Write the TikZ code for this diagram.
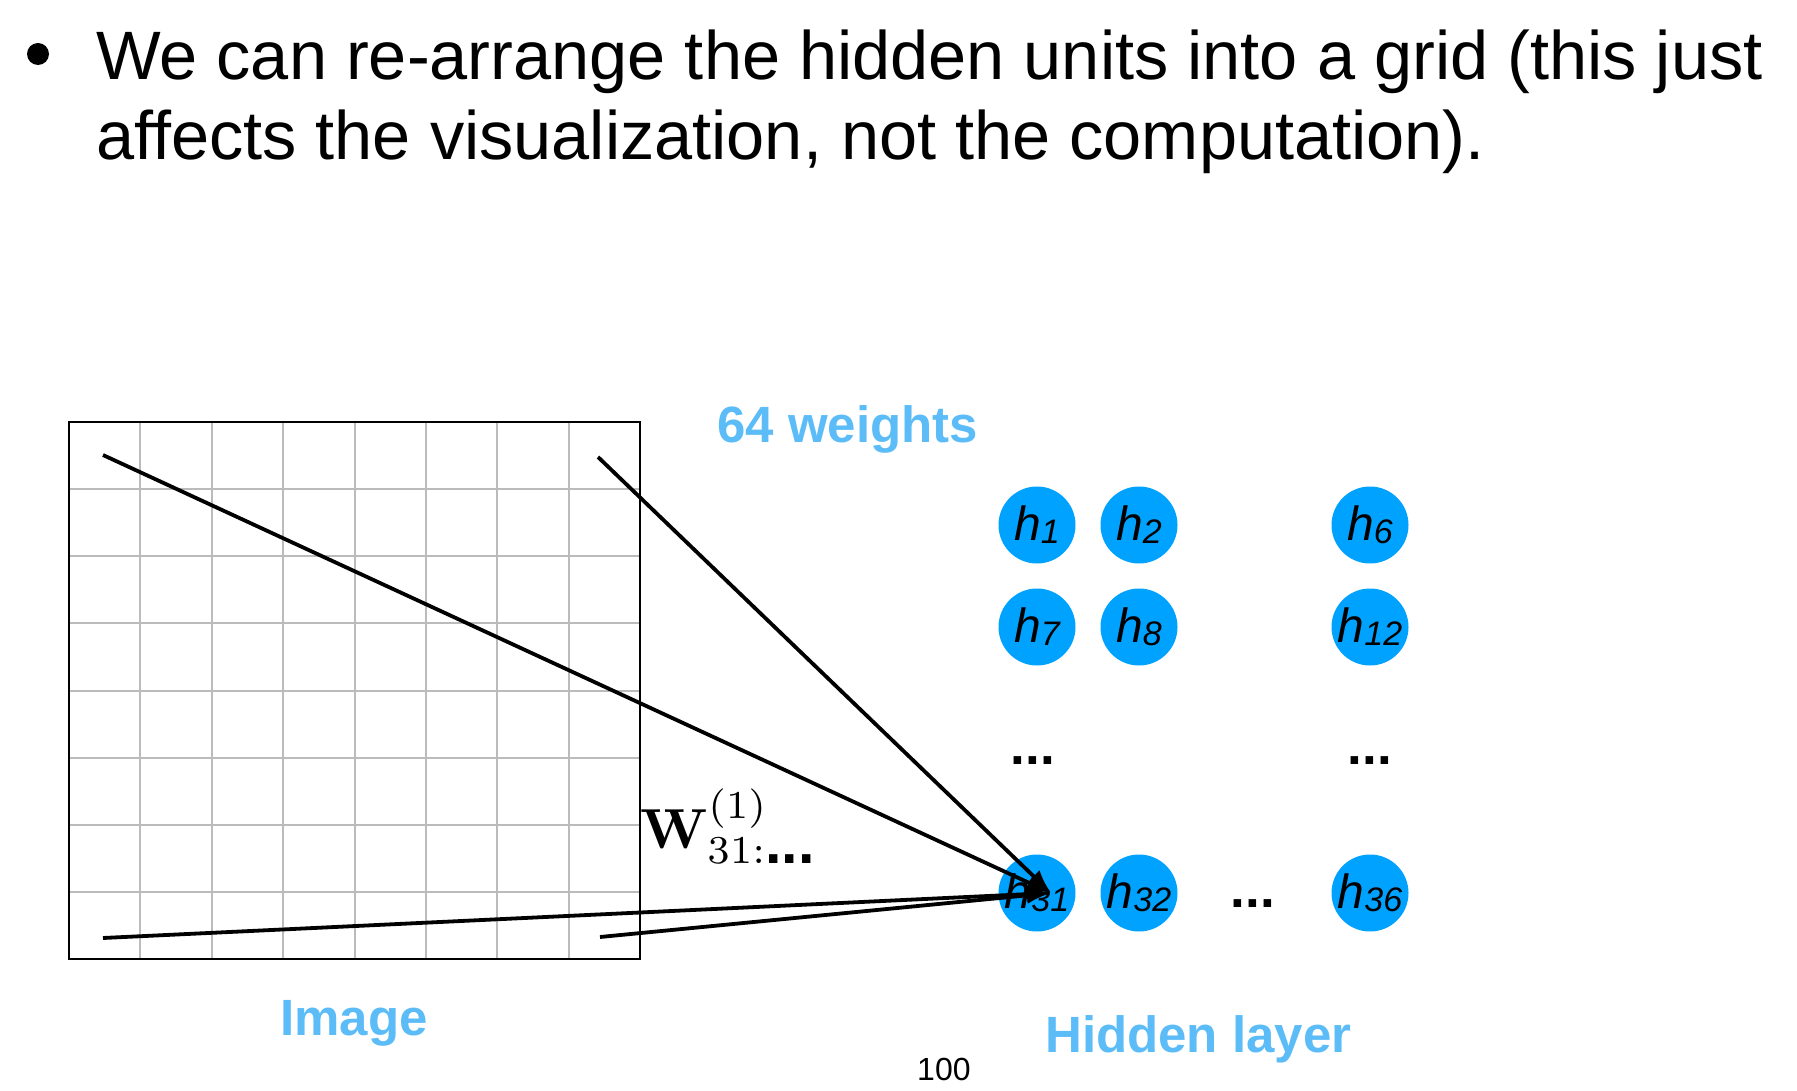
\documentclass[tikz,border=0pt]{standalone}
\usepackage{amsmath}
\usepackage[no-math]{fontspec}
\usepackage{graphicx}
\setmainfont{Liberation Sans}
\usetikzlibrary{arrows.meta}
\definecolor{lblue}{HTML}{5CBCF7}
\definecolor{hblue}{HTML}{00A2FF}
\definecolor{gridgray}{HTML}{BBBBBB}
\newcommand{\hunit}[1]{\fontsize{48}{48}\selectfont\itshape h\raisebox{-3pt}{\fontsize{34}{34}\selectfont #1}}
\tikzset{
  unit/.style={circle,fill=hblue,minimum size=77pt,inner sep=0pt,text=black},
  lbl/.style={text=lblue,font=\fontsize{51}{51}\selectfont\bfseries,anchor=base west,inner sep=0pt},
  hdots/.style={font=\fontsize{53}{53}\selectfont\bfseries,anchor=base,inner sep=0pt},
  conn/.style={line width=3.8pt,-{Latex[length=24pt,width=17pt]}},
  title/.style={font=\fontsize{68.5}{80}\selectfont,anchor=base west,inner sep=0pt}
}
\begin{document}
\begin{tikzpicture}[x=1pt,y=-1pt]
\useasboundingbox (0,0) rectangle (1797,1091);
% title
\fill (38,54) circle (11);
\node[title] (t1) at (96,80) {We can re-arrange the hidden units into a grid (this just};
\node[title] (t2) at (96,160) {affects the visualization, not the computation).};
% image grid
\foreach \i in {1,...,7} {
  \draw[gridgray,line width=2pt] ({69+\i*571/8},422) -- ({69+\i*571/8},959);
  \draw[gridgray,line width=2pt] (69,{422+\i*537/8}) -- (640,{422+\i*537/8});
}
\draw[line width=2.5pt] (69,422) rectangle (640,959);
% labels
\node[lbl] (w64) at (717,442) {64 weights};
\node[lbl] (img) at (280,1035) {Image};
\node[lbl] (hid) at (1045,1052) {Hidden layer};
\node[anchor=base west,inner sep=0pt,font=\fontsize{32}{32}\selectfont] (pg) at (917,1080) {100};
% hidden units
\node[unit] (h1) at (1037,525) {\hunit{1}};
\node[unit] (h2) at (1139,525) {\hunit{2}};
\node[unit] (h6) at (1370,525) {\hunit{6}};
\node[unit] (h7) at (1037,627) {\hunit{7}};
\node[unit] (h8) at (1139,627) {\hunit{8}};
\node[unit] (h12) at (1370,627) {\hunit{12}};
\node[unit] (h31) at (1037,893) {\hunit{31}};
\node[unit] (h32) at (1139,893) {\hunit{32}};
\node[unit] (h36) at (1370,893) {\hunit{36}};
\node[hdots] (d1) at (1033,764) {...};
\node[hdots] (d2) at (1370,764) {...};
\node[hdots] (d3) at (1253,907) {...};
% weight label
\node[anchor=base west,inner sep=0pt] (wl) at (640,848) {\scalebox{5.65}{$\mathbf{W}^{(1)}_{31:\mbox{\fontsize{10.5}{10.5}\selectfont\bfseries...}}$}};
% arrows
\coordinate (s1) at (103,455);
\coordinate (s2) at (598,457);
\coordinate (s3) at (103,938);
\coordinate (s4) at (600,937);
\coordinate (tip) at (1051,893);
\draw[conn] (s1) -- (tip);
\draw[conn] (s2) -- (tip);
\draw[conn] (s3) -- (tip);
\draw[conn] (s4) -- (tip);
\end{tikzpicture}
\end{document}
